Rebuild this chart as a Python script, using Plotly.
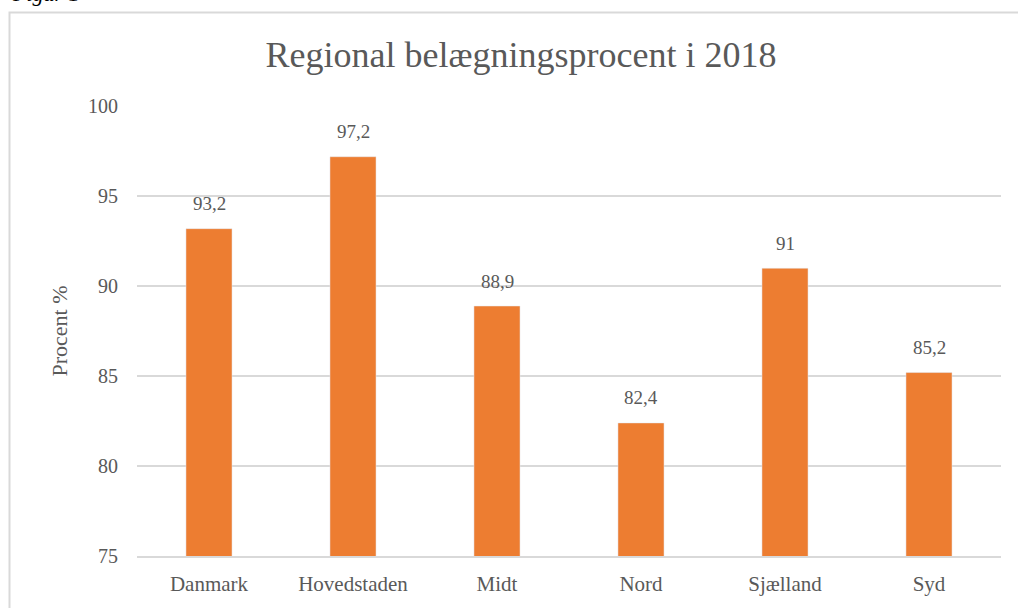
import plotly.graph_objects as go

categories = ["Danmark", "Hovedstaden", "Midt", "Nord", "Sjælland", "Syd"]
values = [93.2, 97.2, 88.9, 82.4, 91.0, 85.2]
labels = [("%g" % v).replace(".", ",") for v in values]

FONT = "Liberation Serif"
GRAY = "#595959"

fig = go.Figure(go.Bar(
    x=categories, y=values,
    marker=dict(color="#ED7D31"), cliponaxis=False, hoverinfo="x+y",
))

annotations = [dict(x=c, y=v, text=t, xref="x", yref="y", showarrow=False,
                    yanchor="middle", yshift=25,
                    font=dict(family=FONT, size=19, color=GRAY))
               for c, v, t in zip(categories, values, labels)]
annotations.append(dict(text="<i>Figur 1</i>", xref="paper", yref="paper",
                        x=(10 - 137) / 864, y=(558 - 8) / 452, xanchor="left", yanchor="bottom",
                        showarrow=False, font=dict(family=FONT, size=22, color="black")))

fig.update_layout(
    width=1018, height=608,
    margin=dict(l=137, r=17, t=106, b=50),
    paper_bgcolor="white", plot_bgcolor="white",
    bargap=0.68,
    showlegend=False,
    title=dict(text="Regional belægningsprocent i 2018", x=521/1018, xanchor="center",
               y=1 - 54/608, yanchor="middle",
               font=dict(family=FONT, size=36, color=GRAY)),
    xaxis=dict(showgrid=False, showline=True, linecolor="#D9D9D9", linewidth=1.5,
               tickfont=dict(family=FONT, size=21, color=GRAY), ticks="", ticklabelstandoff=8),
    yaxis=dict(range=[75, 100.02], tickvals=[75, 80, 85, 90, 95, 100], showgrid=True,
               gridcolor="#D9D9D9", gridwidth=1.5,
               zeroline=False, ticks="", ticklabelstandoff=18,
               tickfont=dict(family=FONT, size=20, color=GRAY),
               title=dict(text="Procent %", font=dict(family=FONT, size=22, color=GRAY), standoff=14)),
    shapes=[dict(type="rect", xref="paper", yref="paper",
                 x0=(9.5 - 137) / 864, x1=1.1, y0=-0.3, y1=(558 - 12) / 452,
                 line=dict(color="#D9D9D9", width=2), fillcolor="rgba(0,0,0,0)", layer="below")],
    annotations=annotations,
)

fig.write_html("out.html", config={"displayModeBar": False},
               post_script="document.body.style.margin='0px';document.body.style.overflow='hidden';")
